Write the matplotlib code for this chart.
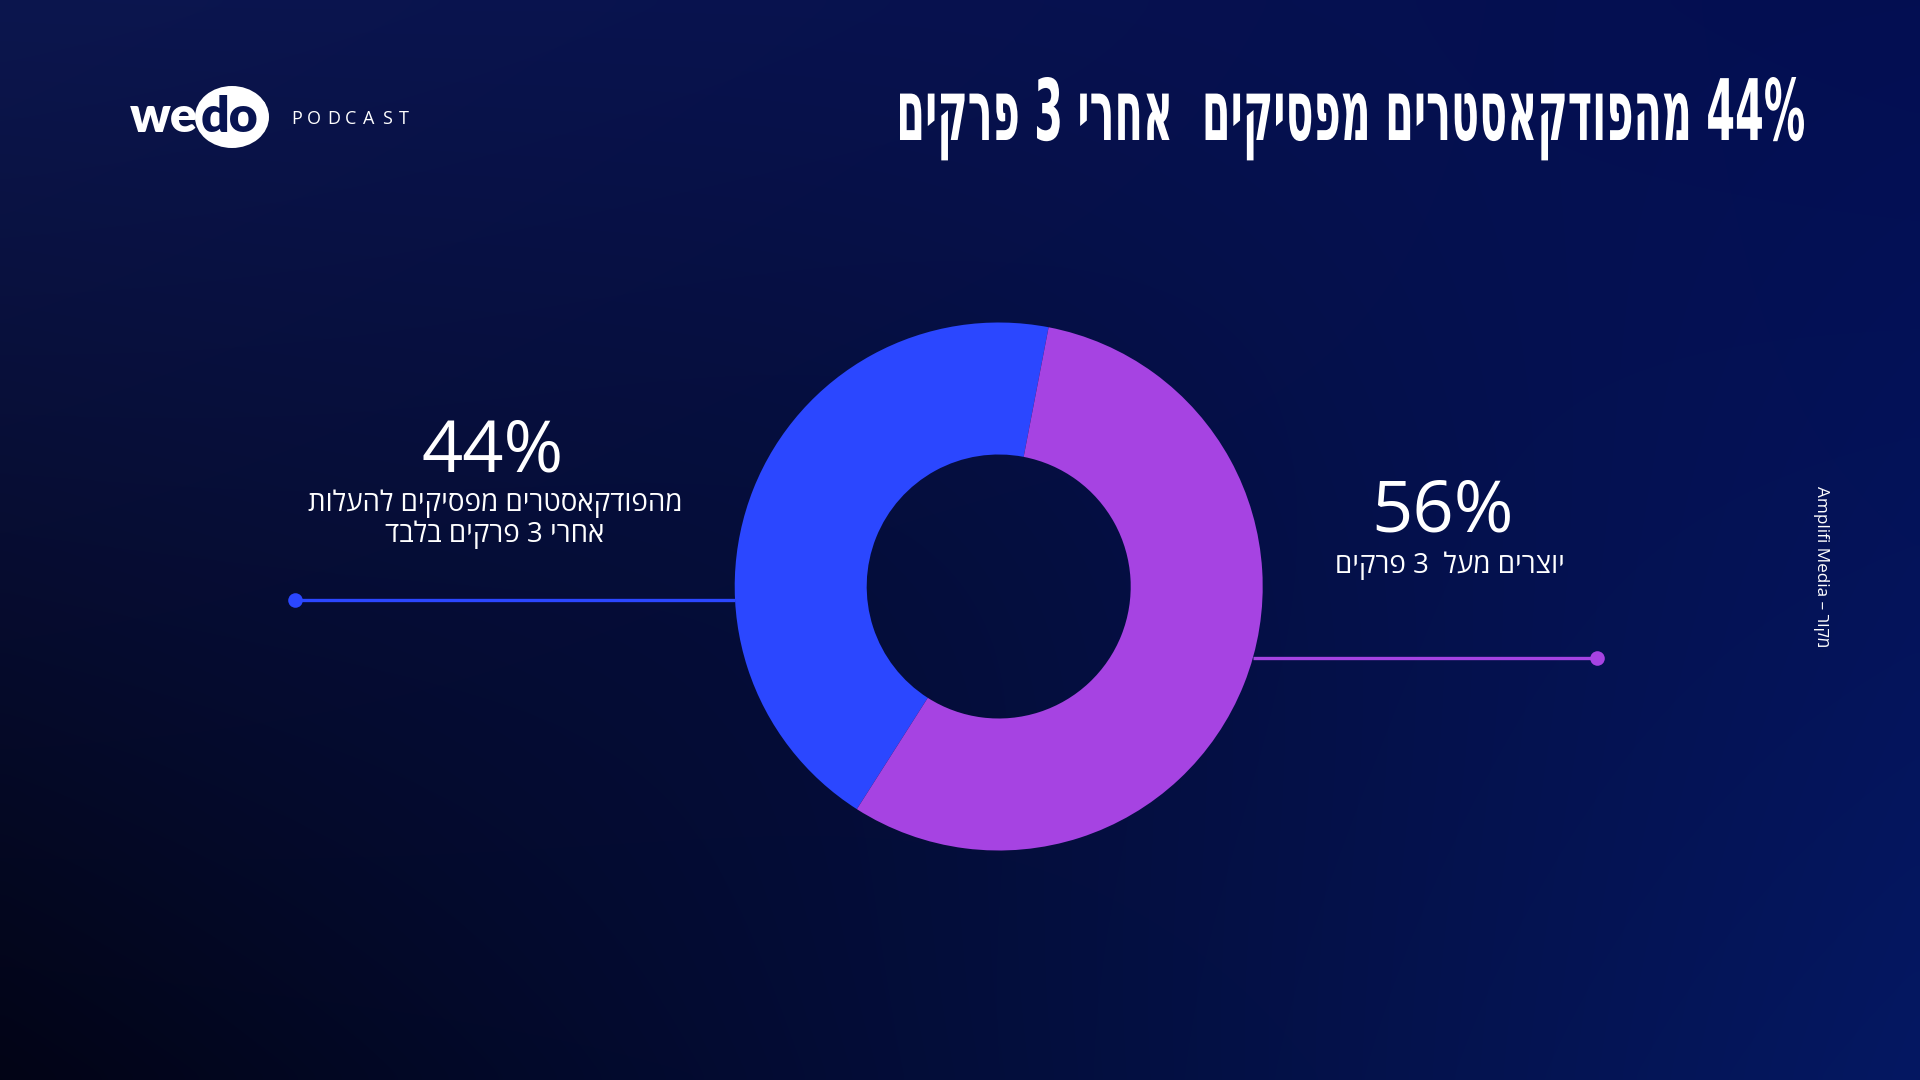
import re
import numpy as np
import matplotlib
matplotlib.use("Agg")
import matplotlib.pyplot as plt
from matplotlib.patches import Ellipse
from matplotlib.patheffects import AbstractPathEffect
from matplotlib.transforms import Affine2D
from matplotlib.textpath import TextPath
from matplotlib.font_manager import FontProperties

# ---------------- data ----------------
shares = [44, 56]
share_labels = ["44%", "56%"]
share_colors = ["#2B47FF", "#A643E2"]
descriptions = [
    ["מהפודקאסטרים מפסיקים להעלות", "אחרי 3 פרקים בלבד"],
    ["יוצרים מעל  3 פרקים"],
]
title_text = "44% מהפודקאסטרים מפסיקים  אחרי 3 פרקים"
source_text = "מקור – Amplifi Media"
brand_word = ["we", "do"]
brand_tag = "PODCAST"

W, H = 1920, 1080
HEB = ["Open Sans", "DejaVu Sans"]
BG_DARK = "#081452"


def vis(s):
    """Minimal bidi: reverse RTL text, keep LTR runs (digits/latin) in order."""
    r = s[::-1]
    return re.sub(r"[0-9A-Za-z%.,]+(?: [0-9A-Za-z%.,]+)*", lambda m: m.group(0)[::-1], r)


class VStretch(AbstractPathEffect):
    """Stretch glyphs vertically about the baseline (text stays a Text artist)."""

    def __init__(self, sy):
        super().__init__()
        self.sy = sy

    def draw_path(self, renderer, gc, tpath, affine, rgbFace=None):
        renderer.draw_path(gc, tpath, Affine2D().scale(1, self.sy) + affine, rgbFace)


fig = plt.figure(figsize=(W / 100, H / 100), dpi=100)

# ---------------- background ----------------
ax_bg = fig.add_axes([0, 0, 1, 1], zorder=0)
yy, xx = np.mgrid[0:1:108j, 0:1:192j]
tl = np.array([12, 22, 78]) / 255
tr = np.array([3, 14, 82]) / 255
bl = np.array([2, 4, 22]) / 255
br = np.array([5, 24, 98]) / 255
img = (tl[None, None, :] * ((1 - xx) * (1 - yy))[..., None]
       + tr[None, None, :] * (xx * (1 - yy))[..., None]
       + bl[None, None, :] * ((1 - xx) * yy)[..., None]
       + br[None, None, :] * (xx * yy)[..., None])
d = np.exp(-((xx - 0.45) ** 2 / 0.08 + (yy - 0.55) ** 2 / 0.15))
img = img * (1 - 0.12 * d[..., None])
ax_bg.imshow(np.clip(img, 0, 1), extent=[0, W, H, 0], aspect="auto", interpolation="bicubic")
ax_bg.set_xlim(0, W)
ax_bg.set_ylim(H, 0)
ax_bg.set_axis_off()

# ---------------- overlay (pixel coords) ----------------
ax = fig.add_axes([0, 0, 1, 1], zorder=1)
ax.set_xlim(0, W)
ax.set_ylim(H, 0)
ax.set_axis_off()

# ---------------- donut ----------------
cx, cy, R = 998.7, 586.5, 264.0
ax_p = fig.add_axes([(cx - R) / W, 1 - (cy + R) / H, 2 * R / W, 2 * R / H], zorder=2)
ax_p.pie(shares, colors=share_colors, startangle=237.5, counterclock=False, radius=1,
         wedgeprops=dict(width=0.5, edgecolor="none", linewidth=0))
ax_p.set_xlim(-1, 1)
ax_p.set_ylim(-1, 1)
ax_p.set_axis_off()

# connectors
for (ly, x_end, side), col in zip([(600, 295, -1), (658, 1597, 1)], share_colors):
    dy = ly - cy
    x_edge = cx + side * np.sqrt(R ** 2 - dy ** 2)
    ax.plot([x_end, x_edge], [ly, ly], color=col, lw=2.4, solid_capstyle="butt")
    ax.plot([x_end], [ly], "o", color=col, ms=10.5, mec="none")

# share labels
ax.text(493, 472, share_labels[0], color="white", fontsize=52, family=HEB,
        ha="center", va="baseline")
ax.text(1443, 532, share_labels[1], color="white", fontsize=52, family=HEB,
        ha="center", va="baseline")
for i, line in enumerate(descriptions[0]):
    ax.text(495, 511 + 31 * i, vis(line), color="white", fontsize=20, family=HEB,
            ha="center", va="baseline")
ax.text(1450, 573, vis(descriptions[1][0]), color="white", fontsize=20, family=HEB,
        ha="center", va="baseline")

# ---------------- title (condensed, tall) ----------------
title_prop = dict(family=["DejaVu Sans"], fontweight="bold", fontstretch="condensed")
t = ax.text(1805, 140, vis(title_text), color="white", fontsize=30,
            ha="right", va="baseline", **title_prop)
fig.canvas.draw()
bb = t.get_window_extent()
fs = 30 * 907 / bb.width
t.set_fontsize(fs)
fp = FontProperties(family="DejaVu Sans", weight="bold", stretch="condensed")
ink_h = TextPath((0, 0), "מ", size=fs * 100 / 72, prop=fp).get_extents().height
t.set_path_effects([VStretch(47.0 / ink_h)])

# ---------------- logo ----------------
ax.add_patch(Ellipse((232, 117), 74, 62, color="white", lw=0))
ax.text(198, 132, brand_word[0], color="white", fontsize=36, family="Lato",
        fontweight="heavy", ha="right", va="baseline")
ax.text(201, 132, brand_word[1], color=BG_DARK, fontsize=36, family="Lato",
        fontweight="heavy", ha="left", va="baseline")
ax.text(262, 106, "®", color="white", fontsize=7, ha="center", va="center")

# tracked "PODCAST"
tag_fp = FontProperties(family="Open Sans", size=13)
widths = [TextPath((0, 0), ch, size=13 * 100 / 72, prop=tag_fp).get_extents().width
          for ch in brand_tag]
span = 408 - 291
track = (span - sum(widths)) / (len(brand_tag) - 1)
xpos = 291
for ch, wd in zip(brand_tag, widths):
    ax.text(xpos, 119, ch, color="white", fontsize=13, family="Open Sans",
            ha="left", va="center")
    xpos += wd + track

# ---------------- source ----------------
ax.text(1821, 567, vis(source_text), color="white", fontsize=12.3, family=HEB,
        rotation=-90, ha="center", va="center")

fig.savefig("out.png", dpi=100)
